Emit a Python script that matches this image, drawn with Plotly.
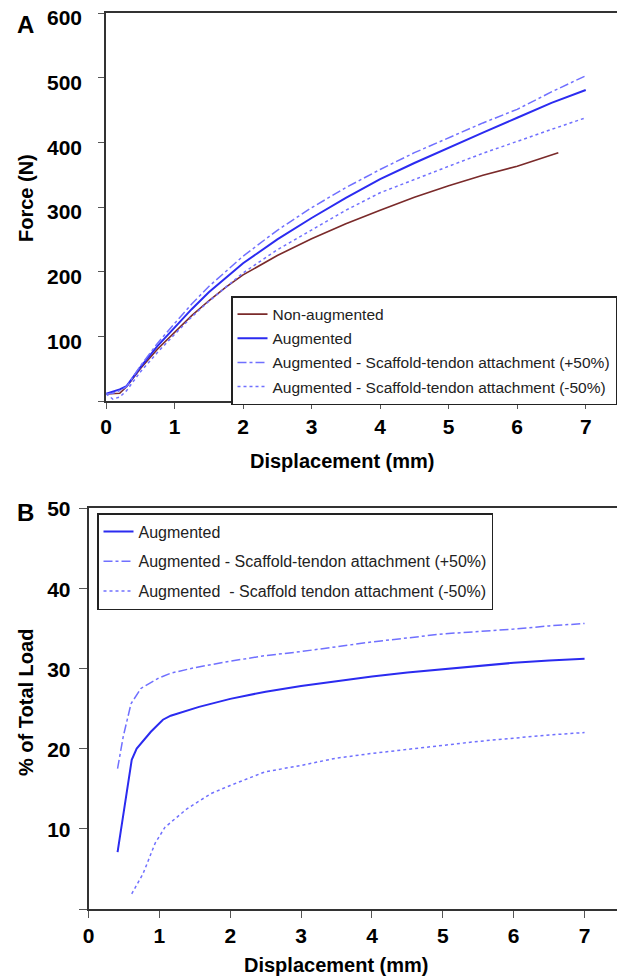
import plotly.graph_objects as go

# ---------------- Panel A data: Force (N) vs Displacement (mm) ----------------
disp_non_aug = [0, 0.1, 0.2, 0.3, 0.5, 0.75, 1.0, 1.25, 1.5, 1.75, 2.0, 2.5, 3.0, 3.5, 4.0, 4.5, 5.0, 5.5, 6.0, 6.3, 6.6]
force_non_aug = [11, 11, 12, 22, 50, 80, 106, 132, 155, 176, 195, 225, 251, 274, 295, 315, 333, 349, 363, 373, 384]

disp_aug = [0, 0.1, 0.2, 0.3, 0.5, 0.75, 1.0, 1.25, 1.5, 1.75, 2.0, 2.5, 3.0, 3.5, 4.0, 4.5, 5.0, 5.5, 6.0, 6.5, 7.0]
force_aug = [11, 14, 18, 23, 52, 85, 113, 142, 168, 191, 213, 250, 283, 314, 343, 368, 392, 415, 438, 461, 481]
force_aug_plus50 = [11, 12, 16, 22, 54, 89, 120, 150, 177, 201, 224, 264, 299, 330, 358, 384, 407, 430, 451, 478, 503]
force_aug_minus50 = [11, 3, 6, 16, 45, 75, 103, 130, 154, 176, 198, 234, 265, 295, 322, 343, 363, 383, 402, 420, 438]

# ---------------- Panel B data: % of Total Load vs Displacement (mm) ----------------
disp_b_aug = [0.41, 0.53, 0.61, 0.68, 0.88, 1.05, 1.16, 1.56, 2.0, 2.5, 3.0, 3.5, 4.0, 4.5, 5.0, 5.5, 6.0, 6.5, 7.0]
load_b_aug = [7.1, 14.0, 18.6, 20.0, 22.1, 23.6, 24.1, 25.2, 26.2, 27.1, 27.8, 28.4, 29.0, 29.5, 29.9, 30.3, 30.7, 31.0, 31.2]

disp_b_plus50 = [0.41, 0.49, 0.60, 0.74, 0.99, 1.16, 1.5, 2.0, 2.5, 3.0, 3.5, 4.0, 4.5, 5.0, 5.5, 6.0, 6.5, 7.0]
load_b_plus50 = [17.5, 21.5, 25.6, 27.5, 28.8, 29.4, 30.1, 30.9, 31.6, 32.1, 32.7, 33.3, 33.8, 34.3, 34.6, 34.9, 35.3, 35.6]

disp_b_minus50 = [0.61, 0.77, 0.94, 1.08, 1.39, 1.73, 2.0, 2.49, 3.0, 3.49, 4.0, 4.5, 5.0, 5.5, 6.0, 6.5, 7.0]
load_b_minus50 = [1.9, 4.4, 8.2, 10.2, 12.5, 14.4, 15.4, 17.1, 17.9, 18.8, 19.4, 19.9, 20.4, 20.9, 21.3, 21.7, 22.0]

# ---------------- Ticks ----------------
x_ticks = [0, 1, 2, 3, 4, 5, 6, 7]
force_ticks = [0, 100, 200, 300, 400, 500, 600]
force_tick_text = ["", "100", "200", "300", "400", "500", "600"]
load_ticks = [0, 10, 20, 30, 40, 50]
load_tick_text = ["", "10", "20", "30", "40", "50"]

FONT = "Liberation Sans, Arial, sans-serif"
C_BROWN = "#7a2a2a"
C_BLUE = "#2b2bf0"
C_LIGHT = "#7070ff"

# The page places the figure 8px from the top-left corner (default body margin),
# so the figure is sized to fill the rest of the window and positions are offset.
OFF = 8
W, H = 625 - OFF, 978 - OFF

fig = go.Figure()

# Panel A traces
fig.add_trace(go.Scatter(x=disp_non_aug, y=force_non_aug, mode="lines", name="Non-augmented",
                         line=dict(color=C_BROWN, width=1.6), xaxis="x", yaxis="y",
                         legend="legend", legendgroup="a1"))
fig.add_trace(go.Scatter(x=disp_aug, y=force_aug, mode="lines", name="Augmented",
                         line=dict(color=C_BLUE, width=2), xaxis="x", yaxis="y",
                         legend="legend", legendgroup="a2"))
fig.add_trace(go.Scatter(x=disp_aug, y=force_aug_plus50, mode="lines",
                         name="Augmented - Scaffold-tendon attachment (+50%)",
                         line=dict(color=C_LIGHT, width=1.5, dash="dashdot"), xaxis="x", yaxis="y",
                         legend="legend", legendgroup="a3"))
fig.add_trace(go.Scatter(x=disp_aug, y=force_aug_minus50, mode="lines",
                         name="Augmented - Scaffold-tendon attachment (-50%)",
                         line=dict(color=C_LIGHT, width=1.5, dash="dot"), xaxis="x", yaxis="y",
                         legend="legend", legendgroup="a4"))

# Panel B traces
fig.add_trace(go.Scatter(x=disp_b_aug, y=load_b_aug, mode="lines", name="Augmented",
                         line=dict(color=C_BLUE, width=2), xaxis="x2", yaxis="y2",
                         legend="legend2", legendgroup="b1"))
fig.add_trace(go.Scatter(x=disp_b_plus50, y=load_b_plus50, mode="lines",
                         name="Augmented - Scaffold-tendon attachment (+50%)",
                         line=dict(color=C_LIGHT, width=1.5, dash="dashdot"), xaxis="x2", yaxis="y2",
                         legend="legend2", legendgroup="b2"))
fig.add_trace(go.Scatter(x=disp_b_minus50, y=load_b_minus50, mode="lines",
                         name="Augmented\u00a0\u00a0- Scaffold tendon attachment (-50%)",
                         line=dict(color=C_LIGHT, width=1.5, dash="dot"), xaxis="x2", yaxis="y2",
                         legend="legend2", legendgroup="b3"))

tickfont = dict(family=FONT, size=21, color="black", weight="bold")
axis_common = dict(showline=True, linecolor="#333333", linewidth=1.5, mirror=True,
                   ticks="outside", tickwidth=1.3, tickcolor="#555555",
                   showgrid=False, zeroline=False, tickfont=tickfont, automargin=False,
                   ticklabeloverflow="allow")

def px_x(p):
    return (p - OFF) / W

def px_y(p):
    return 1 - (p - OFF) / H

fig.update_layout(
    template="none",
    width=W, height=H,
    margin=dict(l=0, r=0, t=0, b=0, pad=0, autoexpand=False),
    paper_bgcolor="white", plot_bgcolor="white",
    font=dict(family=FONT, color="black"),
    xaxis=dict(domain=[px_x(106), px_x(620)], range=[0, 7.5], tickvals=x_ticks,
               anchor="y", ticklen=6, ticklabelstandoff=0, **axis_common),
    yaxis=dict(domain=[px_y(401), px_y(13)], range=[0, 600], tickvals=force_ticks,
               ticktext=force_tick_text, anchor="x", ticklen=6, ticklabelstandoff=12,
               ticklabelshift=5, **axis_common),
    xaxis2=dict(domain=[px_x(88.5), px_x(620)], range=[0, 7.5], tickvals=x_ticks,
                anchor="y2", ticklen=7, ticklabelstandoff=0, **axis_common),
    yaxis2=dict(domain=[px_y(909), px_y(508)], range=[0, 50], tickvals=load_ticks,
                ticktext=load_tick_text, anchor="x2", ticklen=8, ticklabelstandoff=4,
                ticklabelshift=1, **axis_common),
    legend=dict(x=px_x(231), y=px_y(296), xanchor="left", yanchor="top",
                bordercolor="#222222", borderwidth=1.5, bgcolor="white",
                font=dict(family=FONT, size=15.5, color="#222222"),
                tracegroupgap=1, traceorder="grouped", itemwidth=30),
    legend2=dict(x=px_x(97), y=px_y(513), xanchor="left", yanchor="top",
                 bordercolor="#222222", borderwidth=1.5, bgcolor="white",
                 font=dict(family=FONT, size=16, color="#222222"),
                 tracegroupgap=6, traceorder="grouped", itemwidth=30),
    showlegend=True,
)

ann_font_title = dict(family=FONT, size=20, color="black", weight="bold")
ann_common = dict(xref="paper", yref="paper", showarrow=False, xanchor="center", yanchor="middle")
fig.add_annotation(text="A", x=px_x(25), y=px_y(24),
                   font=dict(family=FONT, size=24, color="black", weight="bold"), **ann_common)
fig.add_annotation(text="B", x=px_x(25), y=px_y(512),
                   font=dict(family=FONT, size=24, color="black", weight="bold"), **ann_common)
fig.add_annotation(text="Displacement (mm)", x=px_x(342), y=px_y(461), font=ann_font_title, **ann_common)
fig.add_annotation(text="Displacement (mm)", x=px_x(336), y=px_y(965), font=ann_font_title, **ann_common)
fig.add_annotation(text="Force (N)", x=px_x(26), y=px_y(198), textangle=-90,
                   font=ann_font_title, **ann_common)
fig.add_annotation(text="% of Total Load", x=px_x(26), y=px_y(703), textangle=-90,
                   font=ann_font_title, **ann_common)

fig.write_html("out.html")
